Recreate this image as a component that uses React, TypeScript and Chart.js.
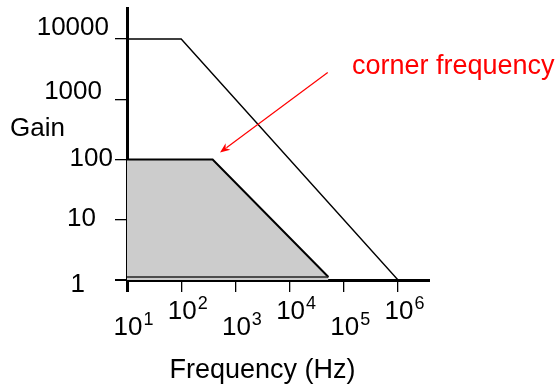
import React, { useEffect, useRef } from "react";
import { Chart, registerables } from "chart.js";

Chart.register(...registerables);

// Straight-line (asymptotic) gain curves, frequency in Hz
const wideFreq = [10, 100, 1e6];
const wideGain = [10000, 10000, 1];

const bandFreq = [10, 380, 52000];
const bandGain = [100, 100, 1.12];

const floorFreq = [10, 52000];
const floorGain = [1.12, 1.12];

// Axis ticks
const xTickExponents = [1, 2, 3, 4, 5, 6];
const yTickValues = [1, 10, 100, 1000, 10000];
const yTickLabels = ["1", "10", "100", "1000", "10000"];

// Callout pointing at the corner of the shaded response (Hz, gain)
const calloutText = "corner frequency";
const calloutLabelAt = [141000, 2610];
const calloutArrowFrom = [50500, 2790];
const calloutArrowTo = [520, 131];

const xTitle = "Frequency (Hz)";
const yTitle = "Gain";

const FONT = '"Liberation Sans", Arial, sans-serif';

// label placement tweaks (pixels): right edge and vertical shift per y tick
const yLabelRight = [85, 96, 113, 102, 109];
const yLabelShift = [5, -1, -1, -7, -11];

const toPts = (xs: number[], ys: number[]) => xs.map((x, i) => ({ x, y: ys[i] }));

const textPlugin = {
  id: "bodeText",
  afterDraw(chart: any) {
    const { ctx, chartArea } = chart;
    const xs = chart.scales.x;
    const ys = chart.scales.y;
    ctx.save();
    ctx.fillStyle = "#000";
    ctx.textBaseline = "alphabetic";

    // x tick labels: 10 with a raised exponent, staggered up/down
    xTickExponents.forEach((e, i) => {
      const px = xs.getPixelForValue(Math.pow(10, e));
      const base = chartArea.bottom + (i % 2 === 0 ? 55 : 39);
      ctx.font = `26px ${FONT}`;
      ctx.textAlign = "left";
      const w = ctx.measureText("10").width;
      const left = px + 1 - w / 2;
      ctx.fillText("10", left, base);
      ctx.font = `18px ${FONT}`;
      ctx.fillText(String(e), left + w + 1, base - 10);
    });

    // y tick labels
    ctx.font = `26px ${FONT}`;
    ctx.textAlign = "right";
    ctx.textBaseline = "middle";
    yTickValues.forEach((v, i) => {
      const py = ys.getPixelForValue(v);
      ctx.fillText(yTickLabels[i], yLabelRight[i], py + yLabelShift[i]);
    });

    // axis titles
    ctx.textBaseline = "alphabetic";
    ctx.textAlign = "left";
    ctx.fillText(yTitle, 10, 136);
    ctx.font = `27px ${FONT}`;
    ctx.textAlign = "center";
    const cx = (xs.getPixelForValue(10) + xs.getPixelForValue(1e6)) / 2;
    ctx.fillText(xTitle, cx, chartArea.bottom + 98);

    // callout
    ctx.fillStyle = "#ff0000";
    ctx.strokeStyle = "#ff0000";
    ctx.textAlign = "left";
    ctx.fillText(
      calloutText,
      xs.getPixelForValue(calloutLabelAt[0]),
      ys.getPixelForValue(calloutLabelAt[1])
    );
    const x0 = xs.getPixelForValue(calloutArrowFrom[0]);
    const y0 = ys.getPixelForValue(calloutArrowFrom[1]);
    const x1 = xs.getPixelForValue(calloutArrowTo[0]);
    const y1 = ys.getPixelForValue(calloutArrowTo[1]);
    const ang = Math.atan2(y1 - y0, x1 - x0);
    const head = 10;
    const half = 4;
    const bx = x1 - head * Math.cos(ang);
    const by = y1 - head * Math.sin(ang);
    ctx.lineWidth = 1.2;
    ctx.beginPath();
    ctx.moveTo(x0, y0);
    ctx.lineTo(bx + 2 * Math.cos(ang), by + 2 * Math.sin(ang));
    ctx.stroke();
    ctx.beginPath();
    ctx.moveTo(x1, y1);
    ctx.lineTo(bx - half * Math.sin(ang), by + half * Math.cos(ang));
    ctx.lineTo(bx + 3 * Math.cos(ang), by + 3 * Math.sin(ang));
    ctx.lineTo(bx + half * Math.sin(ang), by - half * Math.cos(ang));
    ctx.closePath();
    ctx.fill();
    ctx.restore();
  },
};

export default function App() {
  const ref = useRef<HTMLCanvasElement | null>(null);

  useEffect(() => {
    if (!ref.current) return;
    const tickWidth = (c: any) => (c.index === 0 ? 3 : 1.3);
    const chart = new Chart(ref.current, {
      type: "line",
      data: {
        datasets: [
          {
            data: toPts(wideFreq, wideGain),
            borderColor: "#000",
            borderWidth: 1.4,
            pointRadius: 0,
            fill: false,
            order: 1,
          },
          {
            data: toPts(floorFreq, floorGain),
            borderColor: "#222",
            borderWidth: 1.5,
            pointRadius: 0,
            fill: false,
            order: 2,
          },
          {
            data: toPts(bandFreq, bandGain),
            borderColor: "#000",
            borderWidth: 2,
            backgroundColor: "#cccccc",
            pointRadius: 0,
            fill: "start",
            order: 3,
          },
        ],
      },
      options: {
        responsive: false,
        animation: false,
        events: [],
        layout: { padding: { left: 0, top: 8, right: 129, bottom: 0 } },
        plugins: { legend: { display: false }, tooltip: { enabled: false }, title: { display: false } },
        scales: {
          x: {
            type: "logarithmic",
            min: 10,
            max: Math.pow(10, 6.553),
            z: 1,
            afterBuildTicks: (s: any) => {
              s.ticks = xTickExponents.map((e) => ({ value: Math.pow(10, e) }));
            },
            afterFit: (s: any) => {
              s.height = 104;
            },
            ticks: { display: false },
            grid: {
              display: true,
              drawOnChartArea: false,
              drawTicks: true,
              tickLength: 12,
              color: "#000",
              tickColor: "#000",
              lineWidth: tickWidth,
              tickWidth: tickWidth,
            },
            border: { display: true, color: "#000", width: 3 },
          },
          y: {
            type: "logarithmic",
            min: 1,
            max: Math.pow(10, 4.515),
            z: 1,
            afterBuildTicks: (s: any) => {
              s.ticks = yTickValues.map((v) => ({ value: v }));
            },
            afterFit: (s: any) => {
              s.width = 127;
            },
            ticks: { display: false },
            grid: {
              display: true,
              drawOnChartArea: false,
              drawTicks: true,
              tickLength: 12,
              color: "#000",
              tickColor: "#000",
              lineWidth: (c: any) => (c.index === 0 ? 2 : 1.3),
              tickWidth: (c: any) => (c.index === 0 ? 2 : 1.3),
            },
            border: { display: true, color: "#000", width: 3 },
          },
        },
      },
      plugins: [textPlugin],
    });
    return () => chart.destroy();
  }, []);

  return (
    <div style={{ position: "fixed", left: 0, top: 0, width: 557, height: 384, background: "#fff" }}>
      <canvas ref={ref} width={557} height={384} style={{ display: "block" }} />
    </div>
  );
}
